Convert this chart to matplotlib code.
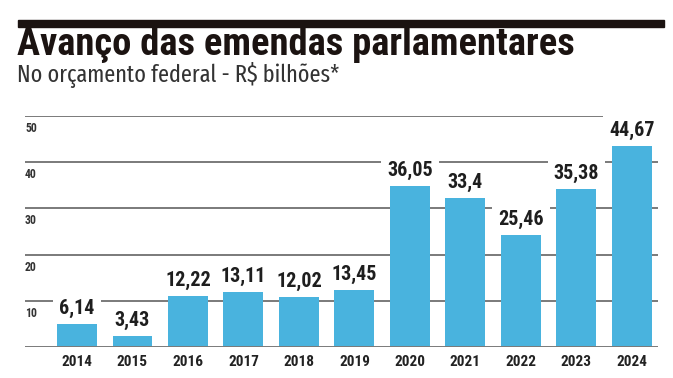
import matplotlib
matplotlib.use("Agg")
import matplotlib.pyplot as plt

# data
years = ["2014", "2015", "2016", "2017", "2018", "2019",
         "2020", "2021", "2022", "2023", "2024"]
values = [6.14, 3.43, 12.22, 13.11, 12.02, 13.45,
          36.05, 33.4, 25.46, 35.38, 44.67]
labels = ["6,14", "3,43", "12,22", "13,11", "12,02", "13,45",
          "36,05", "33,4", "25,46", "35,38", "44,67"]
yticks = [10, 20, 30, 40, 50]

TITLE_FONT = ["Roboto Condensed", "DejaVu Sans"]
SUB_FONT = ["Fira Sans Extra Condensed", "DejaVu Sans"]
NUM_FONT = ["Roboto Condensed", "DejaVu Sans"]

W, H = 673, 378
fig = plt.figure(figsize=(W / 100, H / 100), dpi=100)
fig.patch.set_facecolor("white")

def fx(px):
    return px / W

def fy(py):
    return 1 - py / H

def fit_width(t, target_px):
    # scale font so the text spans target_px
    r = fig.canvas.get_renderer()
    w = t.get_window_extent(renderer=r).width
    t.set_fontsize(t.get_fontsize() * target_px / w)

# top black rule
fig.patches.append(plt.Rectangle((fx(18), fy(27)), fx(664) - fx(18), fy(20) - fy(27),
                                 transform=fig.transFigure, color="#1b1311", zorder=5))

title = fig.text(fx(17), fy(55), "Avanço das emendas parlamentares", fontsize=25,
                 fontweight="black", family=TITLE_FONT, color="#1b1311", va="baseline")
fit_width(title, 558)
sub = fig.text(fx(17), fy(82), "No orçamento federal - R$ bilhões*", fontsize=14,
               fontweight="normal", family=SUB_FONT, color="#333333", va="baseline")
fit_width(sub, 322)

ax = fig.add_axes([fx(25), fy(347), fx(658) - fx(25), fy(116) - fy(347)])
x = list(range(len(years)))
ax.bar(x, values, width=0.72, color="#49b3de", zorder=2)
ax.set_xlim(-0.937, 10.47)
ax.set_ylim(0, 50)

for v in yticks:
    ax.axhline(v, color="#7a7a7a", lw=1.4, zorder=1)
    ax.annotate(str(v), (0, v), xycoords=("axes fraction", "data"),
                xytext=(0, -6), textcoords="offset pixels", ha="left", va="top",
                fontsize=8.5, fontweight="bold", family=NUM_FONT, color="#333333")
ax.axhline(0, color="#7a7a7a", lw=1.4, zorder=3)

for xi, v, lab in zip(x, values, labels):
    ax.annotate(lab, (xi, v), xytext=(0, 5), textcoords="offset pixels",
                ha="center", va="baseline", fontsize=14.5, fontweight="bold",
                family=NUM_FONT, color="#1e1e1e", zorder=4,
                bbox=dict(boxstyle="square,pad=0.3", fc="white", ec="none"))

ax.set_xticks(x)
ax.set_xticklabels(years, fontsize=11, fontweight="bold", family=NUM_FONT, color="#222222")
ax.tick_params(axis="x", length=0, pad=6)
ax.set_yticks([])
for s in ax.spines.values():
    s.set_visible(False)
ax.patch.set_alpha(0)

fig.savefig("out.png", dpi=100)
